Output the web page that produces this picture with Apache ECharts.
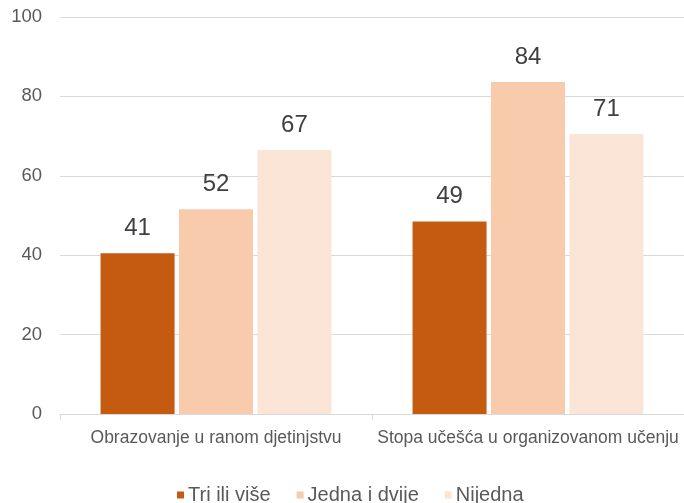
<!DOCTYPE html>
<html>
<head>
<meta charset="utf-8">
<script src="https://cdn.jsdelivr.net/npm/echarts@6/dist/echarts.min.js"></script>
<style>
  html, body { margin: 0; padding: 0; background: #fff; }
  #chart { width: 684px; height: 503px; }
</style>
</head>
<body>
<div id="chart"></div>
<script>
const categories = ['Obrazovanje u ranom djetinjstvu', 'Stopa učešća u organizovanom učenju']
const triIliVise = [40.5, 48.5]
const jednaIDvije = [51.6, 83.6]
const nijedna = [66.5, 70.5]
const colors = ['#C55A11', '#F8CBAD', '#FBE5D6']

const chart = echarts.init(document.getElementById('chart'))
const label = {
  show: true,
  position: 'top',
  distance: 13,
  color: '#404040',
  fontSize: 24,
  fontFamily: 'Liberation Sans',
  formatter: p => Math.round(p.value)
}
chart.setOption({
  color: colors,
  textStyle: { fontFamily: 'Liberation Sans' },
  grid: { left: 60, right: 0, top: 17, bottom: 89 },
  legend: {
    top: 485,
    left: 177,
    padding: 0,
    itemWidth: 7,
    itemHeight: 7,
    itemGap: 26,
    icon: 'rect',
    textStyle: { color: '#595959', fontSize: 20, padding: [0, 0, 0, -1] },
    data: ['Tri ili više', 'Jedna i dvije', 'Nijedna']
  },
  xAxis: {
    type: 'category',
    data: categories,
    axisLine: { lineStyle: { color: '#D9D9D9' } },
    axisTick: { show: true, length: 6, lineStyle: { color: '#D9D9D9' } },
    axisLabel: { color: '#595959', fontSize: 17.5, margin: 15, interval: 0 }
  },
  yAxis: {
    type: 'value',
    min: 0,
    max: 100,
    interval: 20,
    axisLine: { show: false },
    axisTick: { show: false },
    axisLabel: { color: '#595959', fontSize: 18.5, margin: 18 },
    splitLine: { lineStyle: { color: '#D9D9D9' } }
  },
  series: [
    { name: 'Tri ili više', type: 'bar', data: triIliVise, barGap: '6%', barCategoryGap: '26%', label },
    { name: 'Jedna i dvije', type: 'bar', data: jednaIDvije, label },
    { name: 'Nijedna', type: 'bar', data: nijedna, label }
  ]
})
</script>
</body>
</html>
